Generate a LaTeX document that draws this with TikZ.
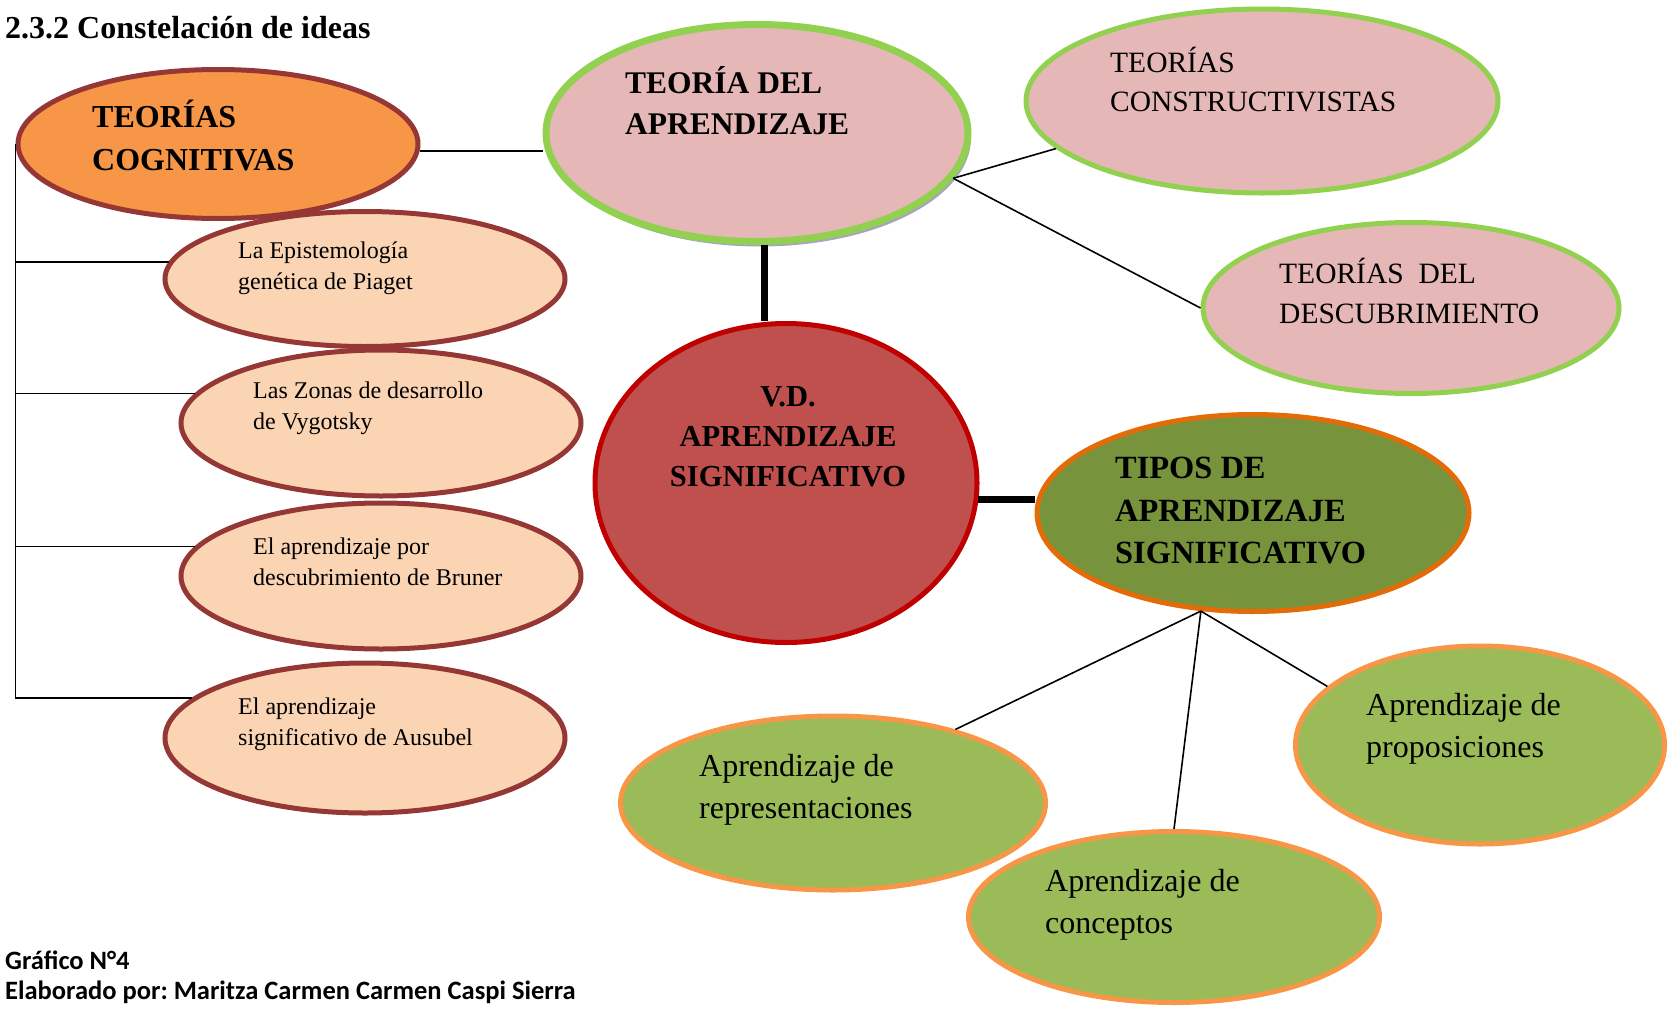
\documentclass[tikz,border=0pt]{standalone}
\usepackage{fontspec}
\setmainfont{Liberation Serif}
\newfontfamily\calibri{Carlito}
\usetikzlibrary{shapes.geometric,shadows}
\frenchspacing

\definecolor{cogfill}{HTML}{F79646}
\definecolor{brownline}{HTML}{953735}
\definecolor{pinkfill}{HTML}{E5B8B7}
\definecolor{greenline}{HTML}{92D050}
\definecolor{vdfill}{HTML}{C0504D}
\definecolor{vdline}{HTML}{C00000}
\definecolor{tipfill}{HTML}{77933C}
\definecolor{tipline}{HTML}{E36C09}
\definecolor{peach}{HTML}{FBD4B4}
\definecolor{leaf}{HTML}{9BBB59}
\definecolor{leafline}{HTML}{F79646}
\definecolor{shadowgray}{HTML}{A6A4C2}

\begin{document}
\begin{tikzpicture}[x=1pt,y=-1pt,
	bubble/.style={ellipse,draw,inner sep=0pt},
	theory/.style={bubble,fill=pinkfill,draw=greenline,line width=5pt},
	author/.style={bubble,fill=peach,draw=brownline,line width=5pt},
	kind/.style={bubble,fill=leaf,draw=leafline,line width=5pt},
	txt/.style={anchor=west,align=left,inner sep=0pt},
	head/.style={txt,font=\bfseries\fontsize{32}{42}\selectfont},
	small/.style={txt,font=\fontsize{24}{31}\selectfont},
	big/.style={txt,font=\fontsize{32}{42}\selectfont},
	foot/.style={anchor=west,inner sep=0pt,font=\calibri\bfseries\fontsize{26.5}{30}\selectfont},
	link/.style={line width=1.6pt},
	bar/.style={line width=7pt}]
	\useasboundingbox (0,0) rectangle (1669,1009);

	\node[anchor=west,inner sep=0pt,font=\bfseries\fontsize{32}{38}\selectfont] (title) at (5,28) {2.3.2 Constelación de ideas};

	% left column
	\node[bubble,fill=cogfill,draw=brownline,line width=5pt,minimum width=400pt,minimum height=149pt] (cog) at (218,144) {};
	\node[author,minimum width=400pt,minimum height=135pt] (pia) at (365,279) {};
	\node[author,minimum width=400pt,minimum height=146pt] (vyg) at (381,423) {};
	\node[author,minimum width=400pt,minimum height=146pt] (bru) at (381,576) {};
	\node[author,minimum width=400pt,minimum height=150pt] (aus) at (365,738) {};
	\node[head,font=\bfseries\fontsize{32}{43}\selectfont] (cogtext) at (92,136) {TEORÍAS\\COGNITIVAS};
	\node[small] (piatext) at (238,268) {La Epistemología\\genética de Piaget};
	\node[small] (vygtext) at (253,408) {Las Zonas de desarrollo\\de Vygotsky};
	\node[small] (brutext) at (253,562) {El aprendizaje por\\descubrimiento de Bruner};
	\node[small] (austext) at (238,724) {El aprendizaje\\significativo de Ausubel};

	% theories
	\node[theory,line width=7pt,minimum width=422pt,minimum height=217pt,
		drop shadow={shadow xshift=3pt,shadow yshift=-5pt,fill=shadowgray,opacity=1}] (teo) at (757,133) {};
	\node[theory,minimum width=472pt,minimum height=184pt] (cst) at (1262,101) {};
	\node[theory,minimum width=416pt,minimum height=171pt] (des) at (1411,308) {};
	\node[head,font=\bfseries\fontsize{31.5}{41}\selectfont] (teotext) at (625,101) {TEORÍA DEL\\APRENDIZAJE};
	\node[txt,font=\fontsize{29.5}{39}\selectfont] (csttext) at (1110,80) {TEORÍAS\\CONSTRUCTIVISTAS};
	\node[txt,font=\fontsize{29.5}{40}\selectfont] (destext) at (1279,291) {TEORÍAS\ \ DEL\\DESCUBRIMIENTO};

	% centre
	\node[bubble,fill=vdfill,draw=vdline,line width=5pt,minimum width=382pt,minimum height=319pt] (vd) at (786,483) {};
	\node[align=center,inner sep=0pt,font=\bfseries\fontsize{30.5}{40}\selectfont] (vdtext) at (788,437) {V.D.\\APRENDIZAJE\\SIGNIFICATIVO};

	% kinds
	\node[bubble,fill=tipfill,draw=tipline,line width=5pt,minimum width=432pt,minimum height=197pt] (tip) at (1253,513) {};
	\node[kind,minimum width=425pt,minimum height=174pt] (rep) at (833,803) {};
	\node[kind,minimum width=411pt,minimum height=171pt] (con) at (1174,917) {};
	\node[kind,minimum width=369pt,minimum height=198pt] (pro) at (1480,745) {};
	\node[head,font=\bfseries\fontsize{32.4}{42.5}\selectfont] (tiptext) at (1115,511) {TIPOS DE\\APRENDIZAJE\\SIGNIFICATIVO};
	\node[big] (reptext) at (699,790) {Aprendizaje de\\representaciones};
	\node[big] (context) at (1045,905) {Aprendizaje de\\conceptos};
	\node[big] (protext) at (1366,729) {Aprendizaje de\\proposiciones};

	% connectors
	\draw[link] (cog.-2) -- (cog.-2 -| teo.west);
	\draw[link] (cog.west) -- (cog.west |- aus.167) -- (aus.167);
	\draw[link] (pia.175) -- (pia.175 -| cog.west);
	\draw[link] (vyg.171) -- (vyg.171 -| cog.west);
	\draw[link] (bru.171) -- (bru.171 -| cog.west);
	\draw[link] (teo.-13) -- (cst.193);
	\draw[link] (teo.-13) -- (des.west);
	\draw[bar] ([xshift=7pt]teo.south) -- ([xshift=7pt]teo.south |- vd.north);
	\draw[bar] (vd.-5) -- (vd.-5 -| tip.west);
	\coordinate (hub) at (tip.242);
	\draw[link] (hub) -- (rep.31);
	\draw[link] (hub) -- (con.north);
	\draw[link] (hub) -- (pro.159);

	\node[foot] (fig) at (5,960) {Gráfico N°4};
	\node[foot] (by) at (5,992) {Elaborado por: Maritza Carmen Carmen Caspi Sierra};
\end{tikzpicture}
\end{document}
